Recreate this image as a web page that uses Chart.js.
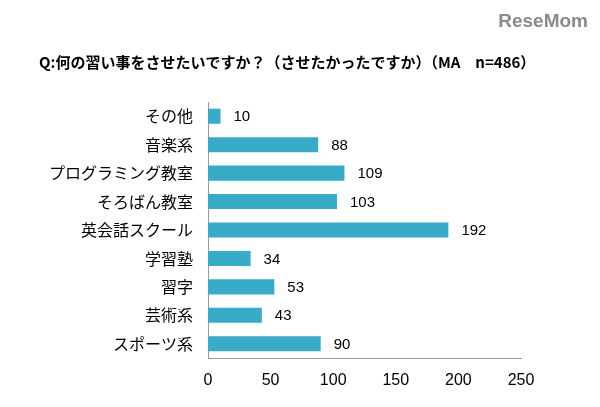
<!DOCTYPE html>
<html>
<head>
<meta charset="utf-8">
<script src="https://cdn.jsdelivr.net/npm/chart.js@4"></script>
<style>
  html, body { margin: 0; padding: 0; background: #fff; }
  #wrap { width: 600px; height: 407px; }
</style>
</head>
<body>
<div id="wrap"><canvas id="lessonChart" width="600" height="407"></canvas></div>
<script>
const categories = ['その他', '音楽系', 'プログラミング教室', 'そろばん教室', '英会話スクール', '学習塾', '習字', '芸術系', 'スポーツ系'];
const counts = [10, 88, 109, 103, 192, 34, 53, 43, 90];
const xTicks = [0, 50, 100, 150, 200, 250];
const titleText = 'Q:何の習い事をさせたいですか？（させたかったですか）（MA　n=486）';
const logoText = 'ReseMom';

const jpFont = '"Noto Sans CJK JP", "Noto Sans", sans-serif';
const numFont = '"Liberation Sans", Arial, sans-serif';

// title, logo and value labels
const extras = {
    id: 'extras',
    afterDraw(chart) {
        const c = chart.ctx;
        c.save();
        c.fillStyle = '#000';
        c.font = 'bold 15px ' + jpFont;
        c.textAlign = 'left';
        c.textBaseline = 'middle';
        c.fillText(titleText, 39, 62);

        c.fillStyle = '#8a8a8a';
        c.font = 'bold 19px ' + numFont;
        c.textAlign = 'right';
        c.fillText(logoText, 588, 22);

        c.fillStyle = '#000';
        c.font = '15px ' + numFont;
        c.textAlign = 'left';
        const meta = chart.getDatasetMeta(0);
        meta.data.forEach((bar, i) => {
            c.fillText(String(counts[i]), bar.x + 13, bar.y + 1);
        });
        c.restore();
    }
};

const ctx = document.getElementById('lessonChart')?.getContext('2d');
if (ctx) {
    new Chart(ctx, {
        type: 'bar',
        data: {
            labels: categories,
            datasets: [{
                data: counts,
                backgroundColor: '#36acc8',
                borderWidth: 0,
                categoryPercentage: 1,
                barPercentage: 0.53
            }]
        },
        options: {
            indexAxis: 'y',
            responsive: false,
            animation: false,
            layout: { padding: { top: 102, left: 0, right: 79, bottom: 0 } },
            plugins: {
                legend: { display: false },
                tooltip: { enabled: false }
            },
            scales: {
                x: {
                    min: 0,
                    max: 250,
                    afterBuildTicks(axis) {
                        axis.ticks = xTicks.map(v => ({ value: v }));
                    },
                    afterFit(axis) { axis.height = 49; },
                    grid: { display: false, drawTicks: false },
                    border: { display: true, color: '#9a9a9a', width: 1 },
                    ticks: {
                        padding: 13,
                        color: '#000',
                        font: { family: numFont, size: 16 }
                    }
                },
                y: {
                    afterFit(axis) { axis.width = 208; },
                    grid: { display: false, drawTicks: false },
                    border: { display: true, color: '#9a9a9a', width: 1 },
                    ticks: {
                        padding: 15,
                        color: '#000',
                        font: { family: jpFont, size: 16 }
                    }
                }
            }
        },
        plugins: [extras]
    });
}
</script>
</body>
</html>
